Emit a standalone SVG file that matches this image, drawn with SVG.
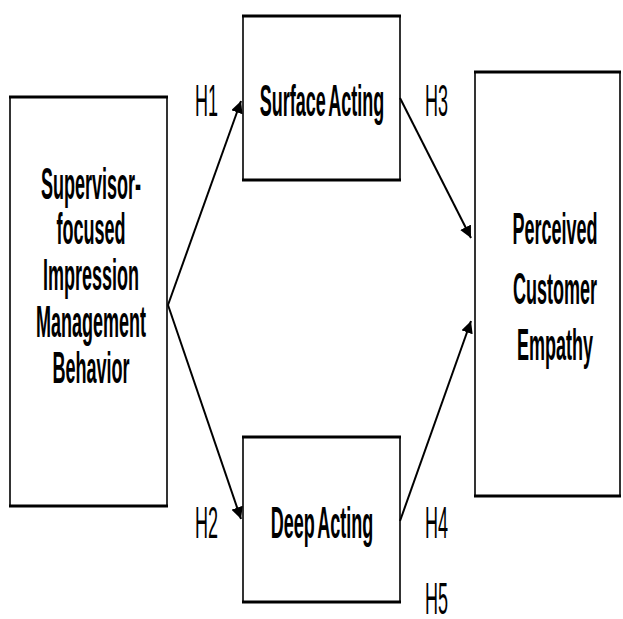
<svg xmlns="http://www.w3.org/2000/svg" width="623" height="619" viewBox="0 0 623 619">
  <defs>
    <marker id="arrow" viewBox="0 0 10 10" refX="10" refY="5" markerWidth="6" markerHeight="6" markerUnits="strokeWidth" orient="auto">
      <path d="M0,0 L10,5 L0,10 z" fill="#000"/>
    </marker>
  </defs>
  <style>
    .hedge { stroke: #000; stroke-width: 3; }
    .vedge { stroke: #000; stroke-width: 1.6; }
    .label { font-family: "Liberation Sans", Arial, sans-serif; font-size: 44px; font-weight: bold; fill: #000; text-anchor: middle; word-spacing: -5px; }
    .hyp { font-family: "Liberation Sans", Arial, sans-serif; font-size: 44px; fill: #000; text-anchor: start; }
    .conn { stroke: #000; stroke-width: 2; fill: none; marker-end: url(#arrow); }
  </style>
  <rect width="623" height="619" fill="#fff"/>

  <!-- connectors -->
  <g id="connectors">
    <line class="conn" x1="168" y1="305" x2="241" y2="101"/>
    <line class="conn" x1="168" y1="305" x2="241" y2="519"/>
    <line class="conn" x1="400" y1="98" x2="471" y2="238"/>
    <line class="conn" x1="400" y1="521" x2="471" y2="321"/>
  </g>

  <!-- Supervisor-focused Impression Management Behavior -->
  <g id="node-supervisor">
    <line class="hedge" x1="9" y1="97" x2="168" y2="97"/>
    <line class="hedge" x1="9" y1="506" x2="168" y2="506"/>
    <line class="vedge" x1="10" y1="97" x2="10" y2="506"/>
    <line class="vedge" x1="167" y1="97" x2="167" y2="506"/>
    <text class="label" transform="translate(91,199) scale(0.41,1)">Supervisor-</text>
    <text class="label" transform="translate(91,244) scale(0.41,1)">focused</text>
    <text class="label" transform="translate(91,290) scale(0.41,1)">Impression</text>
    <text class="label" transform="translate(91,337) scale(0.41,1)">Management</text>
    <text class="label" transform="translate(91,383) scale(0.41,1)">Behavior</text>
  </g>

  <!-- Surface Acting -->
  <g id="node-surface">
    <line class="hedge" x1="242" y1="16" x2="401" y2="16"/>
    <line class="hedge" x1="242" y1="180" x2="401" y2="180"/>
    <line class="vedge" x1="243" y1="16" x2="243" y2="180"/>
    <line class="vedge" x1="400" y1="16" x2="400" y2="180"/>
    <text class="label" transform="translate(322,116) scale(0.41,1)">Surface Acting</text>
  </g>

  <!-- Deep Acting -->
  <g id="node-deep">
    <line class="hedge" x1="242" y1="437" x2="401" y2="437"/>
    <line class="hedge" x1="242" y1="602" x2="401" y2="602"/>
    <line class="vedge" x1="243" y1="437" x2="243" y2="602"/>
    <line class="vedge" x1="400" y1="437" x2="400" y2="602"/>
    <text class="label" transform="translate(322,538) scale(0.41,1)">Deep Acting</text>
  </g>

  <!-- Perceived Customer Empathy -->
  <g id="node-empathy">
    <line class="hedge" x1="474" y1="72" x2="621" y2="72"/>
    <line class="hedge" x1="474" y1="496" x2="621" y2="496"/>
    <line class="vedge" x1="475" y1="72" x2="475" y2="496"/>
    <line class="vedge" x1="620" y1="72" x2="620" y2="496"/>
    <text class="label" transform="translate(555,244) scale(0.41,1)">Perceived</text>
    <text class="label" transform="translate(555,304) scale(0.41,1)">Customer</text>
    <text class="label" transform="translate(555,360) scale(0.41,1)">Empathy</text>
  </g>

  <!-- hypothesis labels -->
  <g id="hypotheses">
    <text class="hyp" transform="translate(195,116) scale(0.41,1)">H1</text>
    <text class="hyp" transform="translate(195,538) scale(0.41,1)">H2</text>
    <text class="hyp" transform="translate(425,116) scale(0.41,1)">H3</text>
    <text class="hyp" transform="translate(425,538) scale(0.41,1)">H4</text>
    <text class="hyp" transform="translate(425,614) scale(0.41,1)">H5</text>
  </g>
</svg>
